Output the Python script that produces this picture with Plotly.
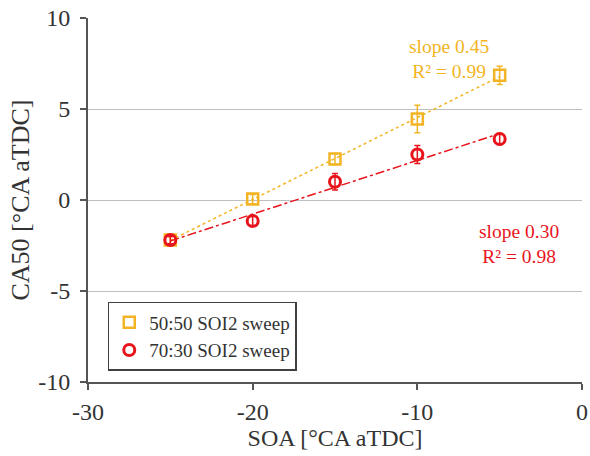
import numpy as np
import plotly.graph_objects as go

soa = [-25, -20, -15, -10, -5]
ca50_5050 = [-2.2, 0.05, 2.25, 4.45, 6.85]
err_5050 = [0.2, 0.25, 0.3, 0.75, 0.5]
ca50_7030 = [-2.2, -1.15, 1.0, 2.5, 3.35]
err_7030 = [0.2, 0.25, 0.45, 0.5, 0.3]

x_tickvals = [-30, -20, -10, 0]
x_ticktext = ["-30", "-20", "-10", "0"]
y_tickvals = [-10, -5, 0, 5, 10]
y_ticktext = ["-10", "-5", "0", "5", "10"]

yellow = "#F2B424"
red = "#E8141C"
font = "Liberation Serif"
txt = "#333333"
axc = "#555555"

fig = go.Figure()

def fit(x, y):
    p = np.polyfit(x, y, 1)
    xs = np.array([min(x), max(x)])
    return xs, np.polyval(p, xs)

xs, ys = fit(soa, ca50_5050)
fig.add_trace(go.Scatter(x=xs, y=ys, mode="lines", showlegend=False,
                         line=dict(color=yellow, width=1.5, dash="dot")))
xs, ys = fit(soa, ca50_7030)
fig.add_trace(go.Scatter(x=xs, y=ys, mode="lines", showlegend=False,
                         line=dict(color=red, width=1.5, dash="dashdot")))

fig.add_trace(go.Scatter(
    x=soa, y=ca50_5050, mode="markers", name="50:50 SOI2 sweep",
    marker=dict(symbol="square-open", size=11, color=yellow, line=dict(width=2.5, color=yellow)),
    error_y=dict(type="data", array=err_5050, color=yellow, thickness=1.5, width=3)))
fig.add_trace(go.Scatter(
    x=soa, y=ca50_7030, mode="markers", name="70:30 SOI2 sweep",
    marker=dict(symbol="circle-open", size=11, color=red, line=dict(width=3, color=red)),
    error_y=dict(type="data", array=err_7030, color=red, thickness=1.5, width=3)))

fig.add_annotation(x=-8.1, y=7.75, text="slope 0.45<br>R² = 0.99", showarrow=False,
                   font=dict(family=font, size=19.5, color=yellow), align="center")
fig.add_annotation(x=-3.8, y=-2.4, text="slope 0.30<br>R² = 0.98", showarrow=False,
                   font=dict(family=font, size=19.5, color=red), align="center")

fig.update_layout(
    width=590, height=456,
    margin=dict(l=88, r=8, t=18, b=74),
    paper_bgcolor="white", plot_bgcolor="white",
    font=dict(family=font, size=24, color=txt),
    showlegend=True,
    legend=dict(x=0.04, y=0.22, xanchor="left", yanchor="top",
                bordercolor="#404040", borderwidth=1.5, bgcolor="white",
                font=dict(family=font, size=19, color=txt),
                itemwidth=30, tracegroupgap=0),
    xaxis=dict(range=[-30, 0], tickvals=x_tickvals, ticktext=x_ticktext,
               showgrid=False, zeroline=False, automargin=False,
               ticklabeloverflow="allow",
               showline=True, linecolor=axc, linewidth=1.8,
               ticks="outside", ticklen=6, tickcolor=axc, tickwidth=1.5,
               ticklabelstandoff=1,
               title=dict(text="SOA [°CA aTDC]", standoff=2,
                          font=dict(family=font, size=24, color=txt))),
    yaxis=dict(range=[-10, 10], tickvals=y_tickvals, ticktext=y_ticktext,
               showgrid=True, gridcolor="#BFBFBF", gridwidth=1,
               zeroline=False, showline=True, linecolor=axc, linewidth=1.8,
               automargin=False, ticklabeloverflow="allow",
               ticks="outside", ticklen=6, tickcolor=axc, tickwidth=1.5,
               ticklabelstandoff=5,
               title=dict(text="CA50 [°CA aTDC]", standoff=1,
                          font=dict(family=font, size=26, color=txt))),
)

fig.write_html("out.html", config={"displayModeBar": False},
               post_script="document.body.style.margin='0';document.body.style.overflow='hidden';")
